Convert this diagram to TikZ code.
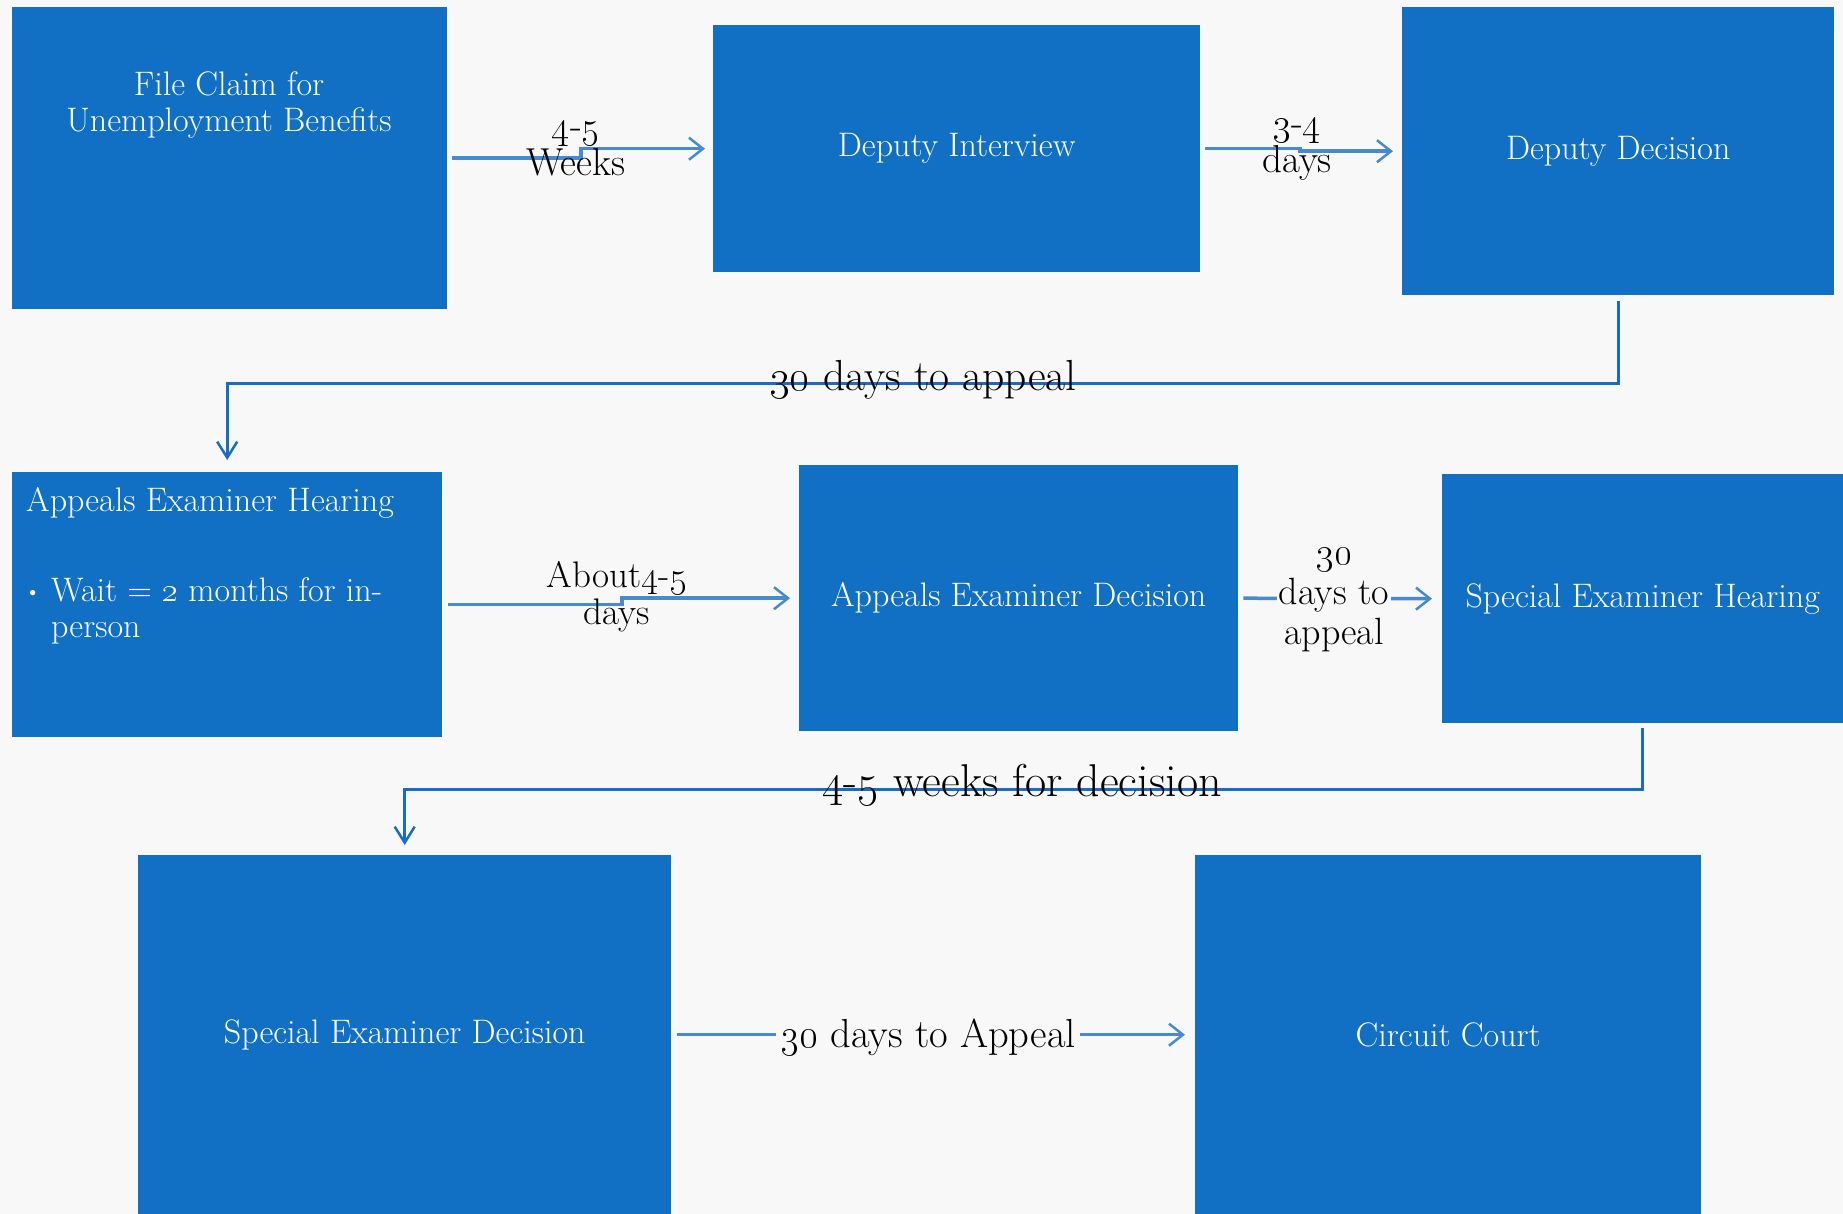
\RequirePackage{fix-cm}
\documentclass[tikz,border=0pt]{standalone}
\usetikzlibrary{arrows.meta}
\definecolor{boxblue}{RGB}{17,112,196}
\definecolor{bgc}{RGB}{248,248,248}
\definecolor{arrblue}{RGB}{70,138,210}
\definecolor{elbblue}{RGB}{22,108,198}
\newcommand\osn[1]{\oldstylenums{#1}}
\tikzset{
  box/.style={fill=boxblue, draw=none, anchor=north west, inner sep=0pt, text=white},
  boxtext/.style={text=white, inner sep=0pt, font=\fontsize{34}{36}\selectfont},
  conn/.style={draw=arrblue, line width=3.5pt,
    -{Straight Barb[length=14pt,width=22pt,line width=2.5pt]}},
  elbow/.style={draw=elbblue, line width=3pt,
    -{Straight Barb[length=16pt,width=20pt,line width=2.5pt]}},
  lbl/.style={text=black, align=center, inner sep=0pt, font=\fontsize{39}{37}\selectfont},
  biglbl/.style={text=black, inner sep=0pt, font=\fontsize{43.5}{44}\selectfont},
}
\begin{document}
\begin{tikzpicture}[x=1pt, y=-1pt]
\fill[bgc] (0,0) rectangle (1843,1214);
\useasboundingbox (0,0) rectangle (1843,1214);

% boxes
\node[box, minimum width=435pt, minimum height=302pt] (b1) at (12,7) {};
\node[box, minimum width=487pt, minimum height=247pt] (b2) at (713,25) {};
\node[box, minimum width=432pt, minimum height=288pt] (b3) at (1402,7) {};
\node[box, minimum width=430pt, minimum height=265pt] (b4) at (12,472) {};
\node[box, minimum width=439pt, minimum height=266pt] (b5) at (799,465) {};
\node[box, minimum width=401pt, minimum height=249pt] (b6) at (1442,474) {};
\node[box, minimum width=533pt, minimum height=359pt] (b7) at (138,855) {};
\node[box, minimum width=506pt, minimum height=359pt] (b8) at (1195,855) {};

% box texts
\node[boxtext, align=center] (t1) at (229,105) {File Claim for\\Unemployment Benefits};
\node[boxtext] (t2) at (b2.center) {Deputy Interview};
\node[boxtext] (t3) at (b3.center) {Deputy Decision};
\node[boxtext, anchor=west] (t4) at (26,503) {Appeals Examiner Hearing};
\node[boxtext, anchor=west, font=\fontsize{24}{24}\selectfont] (t4b) at (24,595) {\textbullet};
\node[boxtext, anchor=north west, align=left] (t4c) at (51,577) {Wait = \osn{2} months for in-\\person};
\node[boxtext] (t5) at (b5.center) {Appeals Examiner Decision};
\node[boxtext] (t6) at (b6.center) {Special Examiner Hearing};
\node[boxtext] (t7) at (b7.center) {Special Examiner Decision};
\node[boxtext] (t8) at (b8.center) {Circuit Court};

% connectors
\coordinate (s1) at (581,152);
\draw[conn, shorten <=5pt, shorten >=8pt] (b1.east) -| (s1) |- (b2.west);
\coordinate (s2) at (1300,149);
\draw[conn, shorten <=5pt, shorten >=9pt] (b2.east) -| (s2) |- (b3.west);
\coordinate (s4) at (622,601);
\draw[conn, shorten <=6pt, shorten >=9pt] (b4.east) -| (s4) |- (b5.west);
\draw[conn, shorten <=5pt, shorten >=10pt] (b5.east) -- (b6.west);
\draw[conn, shorten <=6pt, shorten >=10pt] (b7.east) -- (b8.west);
\draw[elbow, shorten <=6pt, shorten >=12pt] (b3.south) -- ++(0,88) -| (b4.north);
\draw[elbow, shorten <=5pt, shorten >=10pt] (b6.south) -- ++(0,66) -| (b7.north);

% labels
\node[lbl] (l1) at (576,149) {\osn{4}-\osn{5}\\Weeks};
\node[lbl] (l2) at (1297,150) {\osn{3}-\osn{4}\\days};
\node[lbl, font=\fontsize{37}{37}\selectfont] (l3) at (617,597) {About\osn{4}-\osn{5}\\days};
\node[lbl, fill=bgc, inner xsep=2pt, font=\fontsize{38}{40}\selectfont] (l4) at (1334,600) {\osn{30}\\days to\\appeal};
\node[biglbl] (l5) at (923,380) {\osn{30} days to appeal};
\node[biglbl, font=\fontsize{46}{46}\selectfont] (l6) at (1022,785) {\osn{4}-\osn{5} weeks for decision};
\node[biglbl, fill=bgc, inner xsep=4pt, font=\fontsize{40.5}{41}\selectfont] (l7) at (928,1037) {\osn{30} days to Appeal};
\end{tikzpicture}
\end{document}
